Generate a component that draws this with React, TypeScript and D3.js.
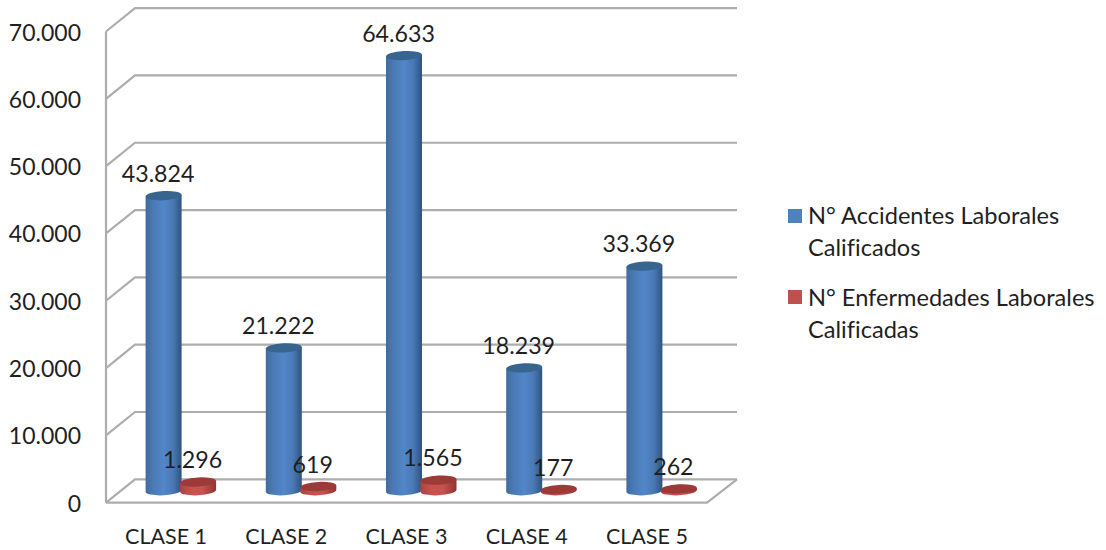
import React from "react";
import * as d3 from "d3";

const categories = ["CLASE 1", "CLASE 2", "CLASE 3", "CLASE 4", "CLASE 5"];
const accidentes = [43824, 21222, 64633, 18239, 33369];
const enfermedades = [1296, 619, 1565, 177, 262];
const yTicks = [0, 10000, 20000, 30000, 40000, 50000, 60000, 70000];
const legendAccidentes = ["N° Accidentes Laborales", "Calificados"];
const legendEnfermedades = ["N° Enfermedades Laborales", "Calificadas"];

const WIDTH = 1106;
const HEIGHT = 550;
const FONT = "Lato, Carlito, sans-serif";
const TEXT = "#1f1f1f";
const GRID = "#adadad";

// Projection of the 3D box: the floor recedes by (depthX, depthY) towards the back wall.
const left = 106;
const right = 707;
const depthX = 29;
const depthY = 23.4;
const floorFront = 502.7;
const plotHeight = 471.2;

const xBand = d3.scaleBand<string>().domain(categories).range([left, right]);
const yFront = d3.scaleLinear().domain([0, 70000]).range([floorFront, floorFront - plotHeight]);
// Columns stand halfway between the front edge and the back wall.
const yBar = d3.scaleLinear().domain([0, 70000]).range([floorFront - 12, floorFront - 12 - plotHeight]);
const tickFormat = (v: number) => d3.format(",")(v).replace(/,/g, ".");

const RX = 18;
const RY = 4.6;
const TILT = -3;
const tiltDy = RX * Math.sin((TILT * Math.PI) / 180);

function cylinderBody(cx: number, top: number, base: number) {
  return [
    `M${cx - RX},${top - tiltDy}`,
    `L${cx - RX},${base - tiltDy}`,
    `A${RX},${RY} ${TILT} 0 0 ${cx + RX},${base + tiltDy}`,
    `L${cx + RX},${top + tiltDy}`,
    "Z",
  ].join(" ");
}

function Cylinder({ cx, value, body, cap }: { cx: number; value: number; body: string; cap: string }) {
  const top = yBar(value);
  const base = yBar(0);
  return (
    <g>
      <path d={cylinderBody(cx, top, base)} fill={`url(#${body})`} />
      <ellipse
        cx={cx}
        cy={top}
        rx={RX}
        ry={RY}
        fill={cap}
        transform={`rotate(${TILT} ${cx} ${top})`}
      />
    </g>
  );
}

function Gradient({ id, stops }: { id: string; stops: [number, string][] }) {
  return (
    <linearGradient id={id} x1="0" x2="1" y1="0" y2="0">
      {stops.map(([o, c]) => (
        <stop key={o} offset={o} stopColor={c} />
      ))}
    </linearGradient>
  );
}

export default function App() {
  const centre = (c: string) => xBand(c)! + xBand.bandwidth() / 2;
  const blueX = (c: string) => centre(c) - 2.5;
  const redX = (c: string) => centre(c) + 32;
  const labelDx = -5.5;
  const labelDy = -23;

  const label = (x: number, y: number, text: string, key: string) => (
    <text
      key={key}
      x={x + labelDx}
      y={y + labelDy}
      textAnchor="middle"
      dominantBaseline="central"
      fontSize={23.2}
      fill={TEXT}
    >
      {text}
    </text>
  );

  return (
    <svg
      width={WIDTH}
      height={HEIGHT}
      style={{ position: "absolute", left: 0, top: 0, background: "#fff", fontVariantLigatures: "none" }}
      fontFamily={FONT}
    >
      <defs>
        <Gradient
          id="blueBody"
          stops={[
            [0, "#3f6b9f"],
            [0.2, "#4a7ab4"],
            [0.5, "#5286c8"],
            [0.75, "#4a7ab6"],
            [1, "#2f547e"],
          ]}
        />
        <Gradient
          id="redBody"
          stops={[
            [0, "#a84441"],
            [0.3, "#c8514e"],
            [0.6, "#ca5350"],
            [1, "#8f3533"],
          ]}
        />
      </defs>

      {/* Back wall gridlines and their returns along the left wall */}
      <g stroke={GRID} strokeWidth={2.2} fill="none">
        {yTicks.map((t) => (
          <path
            key={t}
            d={`M${left},${yFront(t)} L${left + depthX},${yFront(t) - depthY} L${right + depthX + 1},${yFront(t) - depthY}`}
          />
        ))}
        <line x1={left} x2={left} y1={yFront(70000)} y2={yFront(0)} />
        <path
          d={`M${left},${yFront(0)} L${right},${yFront(0)} L${right + depthX + 1},${yFront(0) - depthY}`}
        />
      </g>

      {/* Columns */}
      {categories.map((c, i) => (
        <g key={c}>
          <Cylinder cx={blueX(c)} value={accidentes[i]} body="blueBody" cap="#386490" />
          <Cylinder cx={redX(c)} value={enfermedades[i]} body="redBody" cap="#9c3a38" />
        </g>
      ))}

      {/* Value labels */}
      {categories.map((c, i) => label(blueX(c), yBar(accidentes[i]), tickFormat(accidentes[i]), `a${c}`))}
      {categories.map((c, i) => label(redX(c), yBar(enfermedades[i]), tickFormat(enfermedades[i]), `e${c}`))}

      {/* Value axis */}
      {yTicks.map((t) => (
        <text
          key={t}
          x={81}
          y={yFront(t)}
          textAnchor="end"
          dominantBaseline="central"
          fontSize={23}
          fill={TEXT}
        >
          {tickFormat(t)}
        </text>
      ))}

      {/* Category axis */}
      {categories.map((c) => (
        <text
          key={c}
          x={centre(c)}
          y={536}
          textAnchor="middle"
          dominantBaseline="central"
          fontSize={21.5}
          fill={TEXT}
        >
          {c}
        </text>
      ))}

      {/* Legend */}
      <rect x={788} y={209} width={14} height={14} fill="#4f81bd" />
      <rect x={788} y={290} width={14} height={14} fill="#c0504d" />
      <g fontSize={23.6} fill={TEXT}>
        {legendAccidentes.map((t, i) => (
          <text key={t} x={808} y={224 + i * 32}>
            {t}
          </text>
        ))}
        {legendEnfermedades.map((t, i) => (
          <text key={t} x={808} y={306 + i * 32}>
            {t}
          </text>
        ))}
      </g>
    </svg>
  );
}
